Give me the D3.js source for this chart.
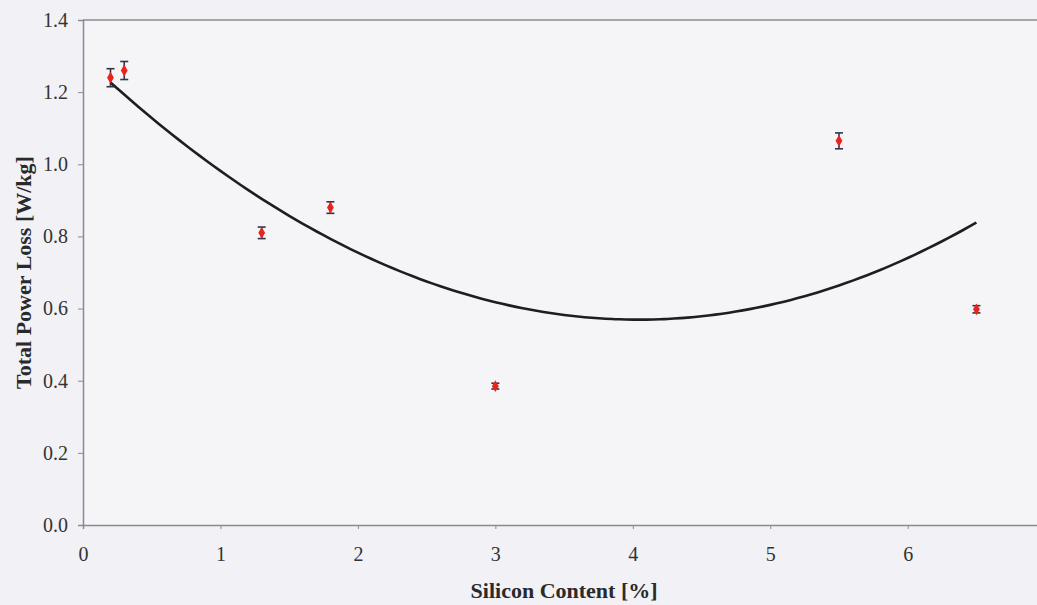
<!DOCTYPE html>
<html>
<head>
<meta charset="utf-8">
<script src="https://d3js.org/d3.v7.min.js"></script>
<style>
body { margin: 0; background: #f1f1f6; }
#main { width: 1037px; height: 605px; overflow: hidden; }
</style>
</head>
<body>
<div id="main"></div>
<script>
// silicon content vs total power loss, with quadratic trendline
var silicon = [0.2, 0.3, 1.3, 1.8, 3.0, 5.5, 6.5];
var powerLoss = [1.24, 1.26, 0.81, 0.88, 0.385, 1.065, 0.598];
var errors = [0.025, 0.025, 0.016, 0.016, 0.008, 0.022, 0.01];
var xTicks = [0, 1, 2, 3, 4, 5, 6];
var yTicks = [0.0, 0.2, 0.4, 0.6, 0.8, 1.0, 1.2, 1.4];

var width = 1037, height = 605;
var margin = {top: 20, left: 83, bottom: 80};
var serif = "'Liberation Serif', 'DejaVu Serif', serif";

var svg = d3.select("#main")
	.append("svg")
	.attr("width", width)
	.attr("height", height)
	.attr("font-family", serif);

var x = d3.scaleLinear()
	.domain([0, 7])
	.range([margin.left, margin.left + 7 * 137.45]);

var y = d3.scaleLinear()
	.domain([0, 1.4])
	.range([height - margin.bottom, margin.top]);

// plot background
svg.append("rect")
	.attr("x", x(0))
	.attr("y", y(1.4))
	.attr("width", width - x(0))
	.attr("height", y(0) - y(1.4))
	.attr("fill", "#f5f5f7");

// top frame line
svg.append("line")
	.attr("x1", x(0)).attr("x2", width)
	.attr("y1", y(1.4)).attr("y2", y(1.4))
	.attr("stroke", "#8a8a92")
	.attr("stroke-width", 1.5);

// axes
var xAxis = svg.append("g")
	.attr("transform", "translate(0," + y(0) + ")")
	.call(d3.axisBottom(x).tickValues(xTicks).tickFormat(d3.format("d")).tickSize(4).tickPadding(18));

var yAxis = svg.append("g")
	.attr("transform", "translate(" + x(0) + ",0)")
	.call(d3.axisLeft(y).tickValues(yTicks).tickFormat(d3.format(".1f")).tickSize(5).tickPadding(10));

[xAxis, yAxis].forEach(function(g){
	g.attr("font-family", serif).attr("font-size", 20);
	g.select(".domain").attr("stroke", "#8a8a92").attr("stroke-width", 1.5);
	g.selectAll(".tick line").attr("stroke", "#8a8a92");
	g.selectAll("text").attr("fill", "#333");
});

// axis titles
svg.append("text")
	.attr("x", (x(0) + x(7)) / 2)
	.attr("y", 598)
	.attr("text-anchor", "middle")
	.attr("font-weight", "bold")
	.attr("font-size", 22)
	.attr("fill", "#2a2a2a")
	.text("Silicon Content [%]");

svg.append("text")
	.attr("transform", "translate(31," + ((y(0) + y(1.4)) / 2) + ") rotate(-90)")
	.attr("text-anchor", "middle")
	.attr("font-weight", "bold")
	.attr("font-size", 22)
	.attr("fill", "#2a2a2a")
	.text("Total Power Loss [W/kg]");

// least squares quadratic trendline over the data
function quadFit(xs, ys){
	var s = [0,0,0,0,0], t = [0,0,0];
	xs.forEach(function(xi, i){
		for (var k = 0; k < 5; k++) s[k] += Math.pow(xi, k);
		for (var k = 0; k < 3; k++) t[k] += Math.pow(xi, k) * ys[i];
	});
	var m = [[s[0], s[1], s[2], t[0]], [s[1], s[2], s[3], t[1]], [s[2], s[3], s[4], t[2]]];
	for (var c = 0; c < 3; c++){
		for (var r = c + 1; r < 3; r++){
			var f = m[r][c] / m[c][c];
			for (var k = c; k < 4; k++) m[r][k] -= f * m[c][k];
		}
	}
	var b = [0,0,0];
	for (var r = 2; r >= 0; r--){
		var v = m[r][3];
		for (var k = r + 1; k < 3; k++) v -= m[r][k] * b[k];
		b[r] = v / m[r][r];
	}
	return b;
}
var coef = quadFit(silicon, powerLoss);
var xs = d3.range(d3.min(silicon), d3.max(silicon) + 0.001, 0.05);

svg.append("path")
	.datum(xs)
	.attr("fill", "none")
	.attr("stroke", "#1e1e1e")
	.attr("stroke-width", 2.6)
	.attr("d", d3.line()
		.x(d => x(d))
		.y(d => y(coef[0] + coef[1] * d + coef[2] * d * d))
		.curve(d3.curveBasis));

// error bars
var bars = svg.append("g")
	.attr("stroke", "#33334a")
	.attr("stroke-width", 1.6)
	.selectAll("g")
	.data(silicon.map((s, i) => ({x: s, y: powerLoss[i], e: errors[i]})))
	.join("g");

bars.append("line")
	.attr("x1", d => x(d.x)).attr("x2", d => x(d.x))
	.attr("y1", d => y(d.y - d.e)).attr("y2", d => y(d.y + d.e));
bars.append("line")
	.attr("x1", d => x(d.x) - 4).attr("x2", d => x(d.x) + 4)
	.attr("y1", d => y(d.y - d.e)).attr("y2", d => y(d.y - d.e));
bars.append("line")
	.attr("x1", d => x(d.x) - 4).attr("x2", d => x(d.x) + 4)
	.attr("y1", d => y(d.y + d.e)).attr("y2", d => y(d.y + d.e));

// markers
svg.append("g")
	.selectAll("path")
	.data(silicon.map((s, i) => ({x: s, y: powerLoss[i]})))
	.join("path")
	.attr("transform", d => "translate(" + x(d.x) + "," + y(d.y) + ")")
	.attr("d", d3.symbol().type(d3.symbolDiamond).size(40))
	.attr("fill", "#e8241c");
</script>
</body>
</html>
